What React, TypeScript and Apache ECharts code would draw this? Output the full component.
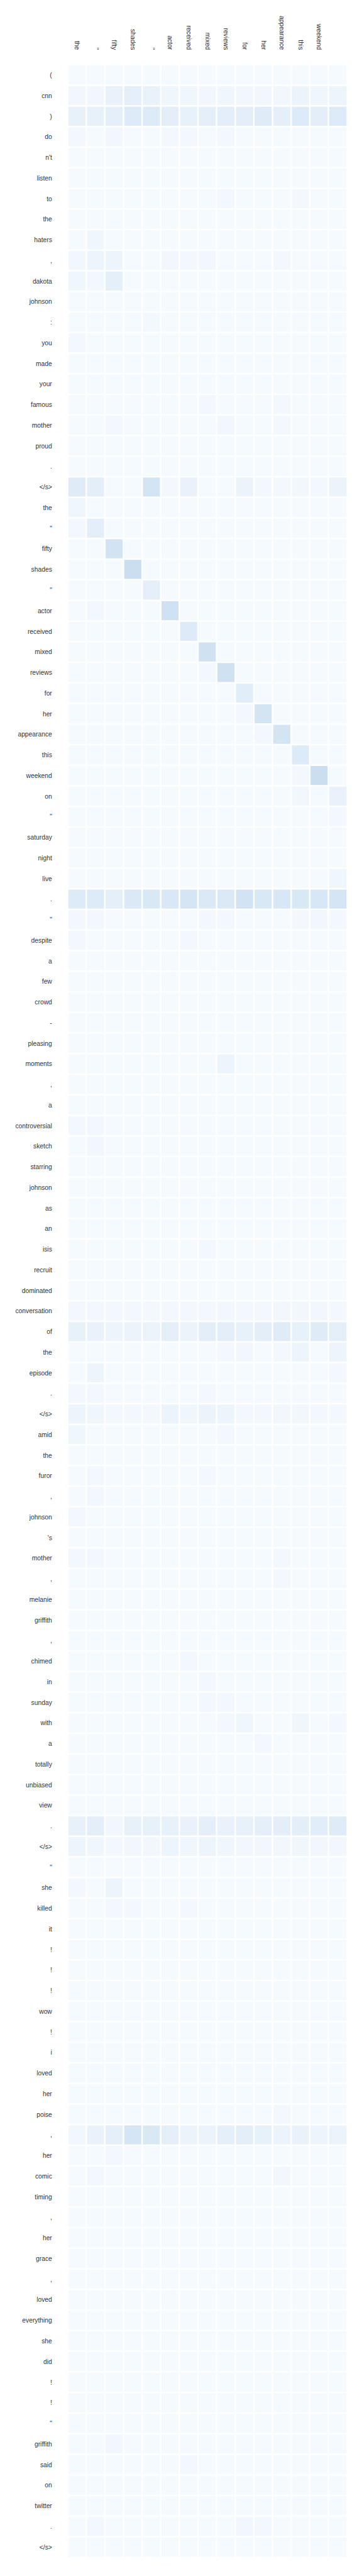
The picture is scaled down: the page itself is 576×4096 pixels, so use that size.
import React, { useEffect, useRef } from "react";
import * as echarts from "echarts";

const xLabels = ["the", "\"", "fifty", "shades", "\"", "actor", "received", "mixed", "reviews", "for", "her", "appearance", "this", "weekend", ""];

const yLabels = [
  "(", "cnn", ")", "do", "n't", "listen", "to", "the", "haters", ",", "dakota", "johnson", ":",
  "you", "made", "your", "famous", "mother", "proud", ".", "</s>",
  "the", "\"", "fifty", "shades", "\"", "actor", "received", "mixed", "reviews", "for", "her",
  "appearance", "this", "weekend", "on", "\"", "saturday", "night", "live", ".", "\"",
  "despite", "a", "few", "crowd", "-", "pleasing", "moments", ",", "a", "controversial",
  "sketch", "starring", "johnson", "as", "an", "isis", "recruit", "dominated", "conversation",
  "of", "the", "episode", ".", "</s>",
  "amid", "the", "furor", ",", "johnson", "'s", "mother", ",", "melanie", "griffith", ",",
  "chimed", "in", "sunday", "with", "a", "totally", "unbiased", "view", ".", "</s>",
  "\"", "she", "killed", "it", "!", "!", "!", "wow", "!", "i", "loved", "her", "poise", ",",
  "her", "comic", "timing", ",", "her", "grace", ",", "loved", "everything", "she", "did",
  "!", "!", "\"", "griffith", "said", "on", "twitter", ".", "</s>",
];

// attention weights in percent, one row per source token
const attention = [
  [1,1,1,1,1,1,1,1,1,1,1,1,1,1,1], // (
  [3,3,7,9,7,4,4,3,4,3,3,3,6,4,5], // cnn
  [8,8,9,13,13,10,8,9,10,10,12,9,13,10,13], // )
  [2,1,3,1,1,2,2,1,2,1,1,1,1,1,1], // do
  [1,1,1,1,1,1,1,1,1,1,1,1,1,1,1], // n't
  [1,1,1,1,1,1,1,1,1,1,1,1,1,1,1], // listen
  [1,1,1,1,1,1,1,1,2,1,1,1,2,1,1], // to
  [1,1,1,1,1,1,1,1,1,1,1,1,1,1,1], // the
  [1,4,1,1,1,1,1,1,1,1,1,1,1,1,1], // haters
  [3,5,5,1,1,3,2,3,1,1,1,2,1,1,1], // ,
  [4,2,9,1,1,1,1,1,1,1,1,1,1,1,1], // dakota
  [1,1,1,1,1,1,1,1,1,1,1,1,1,1,1], // johnson
  [1,1,1,1,2,1,1,1,1,1,1,1,1,1,1], // :
  [2,1,1,1,1,1,1,1,1,1,1,1,1,1,1], // you
  [1,1,1,1,1,1,1,1,1,1,1,1,1,1,1], // made
  [1,1,1,1,1,1,1,1,1,1,1,1,1,1,1], // your
  [1,1,1,1,1,1,1,2,1,1,1,2,1,1,1], // famous
  [1,1,2,1,1,1,1,1,3,1,1,2,1,1,1], // mother
  [1,1,1,1,1,1,1,1,1,1,1,1,1,1,1], // proud
  [1,1,1,1,1,1,1,1,1,1,1,1,1,1,1], // .
  [12,10,1,1,18,2,7,1,1,6,2,2,3,2,6], // </s>
  [4,1,1,1,1,1,1,1,1,1,1,1,1,1,1], // the
  [2,10,1,1,1,1,1,1,1,1,1,1,1,1,1], // "
  [1,1,19,1,1,1,1,1,1,1,1,1,1,1,1], // fifty
  [1,1,1,23,1,1,1,1,1,1,1,1,1,1,1], // shades
  [1,1,1,1,9,1,1,1,1,1,1,1,1,1,1], // "
  [1,2,1,1,1,20,1,1,1,1,1,1,1,1,1], // actor
  [1,1,1,1,1,1,13,1,1,1,1,1,1,1,1], // received
  [1,1,1,1,1,1,1,20,1,1,1,1,1,1,1], // mixed
  [1,1,1,1,1,1,1,2,20,1,1,1,1,1,1], // reviews
  [1,1,1,1,1,1,1,1,1,11,1,1,1,1,1], // for
  [1,1,1,1,1,1,1,1,1,2,18,1,1,1,1], // her
  [1,1,1,1,1,1,1,1,1,1,2,18,1,1,1], // appearance
  [1,1,1,1,1,1,1,1,1,1,1,1,13,1,1], // this
  [1,1,1,1,1,1,1,1,1,1,1,1,2,23,1], // weekend
  [1,1,1,1,1,1,1,1,1,1,1,1,3,1,7], // on
  [1,1,1,1,1,1,1,1,1,1,1,1,1,1,2], // "
  [1,1,1,1,1,1,1,1,1,1,1,1,1,1,1], // saturday
  [1,1,1,1,1,1,1,1,1,1,1,1,1,1,1], // night
  [1,1,1,1,1,1,1,1,1,1,1,1,1,1,4], // live
  [13,13,9,14,15,15,17,14,14,19,15,16,15,16,17], // .
  [2,2,1,1,1,1,1,2,2,1,1,1,2,3,2], // "
  [2,1,1,1,1,1,2,1,1,1,1,1,1,1,1], // despite
  [1,1,1,1,1,1,1,1,1,1,1,1,1,1,1], // a
  [1,1,1,1,1,1,1,1,1,1,1,1,1,1,1], // few
  [1,1,1,1,1,1,1,1,1,1,1,1,1,1,1], // crowd
  [1,1,1,1,1,1,1,1,1,1,1,1,1,1,1], // -
  [1,1,1,1,1,1,1,1,1,1,1,1,1,1,1], // pleasing
  [1,1,1,1,1,1,1,1,5,1,1,1,1,1,1], // moments
  [1,1,1,1,1,1,1,1,1,1,1,1,1,1,1], // ,
  [1,1,1,1,1,1,1,1,1,1,1,1,1,1,1], // a
  [2,2,1,1,1,1,1,1,1,1,1,1,1,1,1], // controversial
  [1,3,1,1,1,1,1,1,1,1,1,1,1,1,1], // sketch
  [1,1,1,1,1,1,1,1,1,1,1,1,1,1,1], // starring
  [1,1,1,1,1,1,1,1,1,1,1,1,1,1,1], // johnson
  [1,1,1,1,1,1,1,1,1,1,1,1,1,1,1], // as
  [1,1,1,1,1,1,1,1,1,1,1,1,1,1,1], // an
  [1,1,1,1,1,1,1,2,1,1,1,1,1,1,1], // isis
  [1,1,1,1,1,1,1,1,1,1,1,1,1,1,1], // recruit
  [1,1,1,1,1,1,1,1,1,1,1,1,1,1,1], // dominated
  [2,2,2,2,2,2,2,2,3,2,2,3,3,3,2], // conversation
  [8,7,5,6,6,9,6,10,10,8,10,12,8,12,9], // of
  [1,1,1,1,1,1,1,1,2,3,1,2,5,1,5], // the
  [1,5,1,1,1,1,1,1,1,1,1,1,1,1,2], // episode
  [2,2,1,1,1,1,1,2,1,1,1,1,1,1,1], // .
  [5,4,2,2,2,6,4,6,5,2,2,3,3,2,2], // </s>
  [4,1,1,1,1,1,1,1,2,1,1,1,1,1,1], // amid
  [1,1,1,1,1,1,1,1,1,1,1,1,1,1,1], // the
  [1,2,1,1,1,1,1,2,1,1,1,1,1,1,1], // furor
  [1,2,1,1,1,1,1,1,1,1,1,1,1,1,1], // ,
  [2,1,1,1,1,1,1,1,1,1,1,1,1,1,1], // johnson
  [1,1,1,1,1,1,1,1,1,1,1,1,1,1,1], // 's
  [2,2,1,1,1,1,1,1,1,1,1,2,1,1,1], // mother
  [1,1,1,1,1,1,1,1,1,1,1,2,1,1,1], // ,
  [1,1,1,1,1,1,1,1,1,1,1,1,1,1,1], // melanie
  [1,1,1,1,1,1,1,1,1,1,1,1,1,1,1], // griffith
  [1,1,1,1,1,1,1,1,1,1,1,1,1,1,1], // ,
  [1,1,1,1,1,1,2,1,1,1,1,1,1,1,1], // chimed
  [1,1,1,1,1,1,1,2,1,1,1,1,1,1,1], // in
  [1,1,1,1,1,1,1,2,2,1,1,1,1,1,1], // sunday
  [1,1,1,1,1,1,1,1,2,4,1,1,4,1,2], // with
  [1,1,1,1,1,1,1,1,1,1,2,1,1,1,1], // a
  [1,1,1,1,1,1,1,1,1,1,1,1,1,1,1], // totally
  [1,1,1,1,1,1,1,1,1,1,1,1,1,1,1], // unbiased
  [1,1,1,1,1,1,1,1,1,1,1,1,1,1,1], // view
  [8,10,3,8,8,8,7,9,7,8,9,10,10,11,12], // .
  [5,4,2,3,3,5,4,5,4,3,3,3,4,3,3], // </s>
  [1,1,1,1,1,1,1,1,1,1,1,1,1,1,1], // "
  [2,1,5,1,1,1,1,1,1,1,1,1,1,1,1], // she
  [1,1,2,2,1,1,2,1,1,1,1,1,1,1,1], // killed
  [1,1,1,1,1,1,1,1,1,1,1,1,1,1,1], // it
  [1,1,1,1,1,1,1,1,1,1,1,1,1,1,1], // !
  [1,1,1,1,1,1,1,1,1,1,1,1,1,1,1], // !
  [1,1,1,1,1,1,1,1,1,1,1,1,1,1,1], // !
  [1,1,1,1,1,1,1,1,1,1,1,1,1,1,1], // wow
  [1,1,1,1,1,1,1,1,1,1,1,1,1,1,1], // !
  [1,1,1,1,1,1,1,1,1,1,1,1,1,1,1], // i
  [1,1,1,1,1,1,1,1,1,1,1,1,1,1,1], // loved
  [1,1,1,1,1,1,1,1,1,1,1,1,1,1,1], // her
  [1,1,1,1,1,1,1,1,1,1,1,2,1,1,1], // poise
  [3,7,9,17,15,9,6,6,9,10,8,6,7,5,6], // ,
  [1,1,2,1,1,1,1,1,1,1,1,1,1,1,1], // her
  [1,2,1,1,1,1,1,1,1,1,1,3,1,1,1], // comic
  [1,1,1,1,1,1,1,1,1,1,1,1,1,1,1], // timing
  [1,1,1,1,1,1,1,1,1,1,1,1,1,1,1], // ,
  [1,1,1,1,1,1,1,1,1,1,1,1,1,1,1], // her
  [1,1,1,1,1,1,1,1,1,1,1,1,1,1,1], // grace
  [1,1,1,1,1,1,1,1,1,1,1,1,1,1,1], // ,
  [1,1,1,1,1,1,1,1,1,1,1,1,1,1,1], // loved
  [1,1,1,1,1,1,1,1,1,1,1,1,1,1,1], // everything
  [1,1,1,1,1,1,1,1,1,1,1,1,1,1,1], // she
  [1,1,1,1,1,1,1,1,1,1,1,1,1,1,1], // did
  [1,1,1,1,1,1,1,1,1,1,1,1,1,1,1], // !
  [1,1,1,1,1,1,1,1,1,1,1,1,1,1,1], // !
  [1,1,1,1,1,1,1,1,1,1,1,1,1,1,1], // "
  [1,1,3,1,1,1,1,1,1,1,1,1,1,1,1], // griffith
  [1,1,1,1,1,1,2,1,1,1,1,1,1,1,1], // said
  [1,1,1,1,1,1,1,1,1,1,1,1,1,1,1], // on
  [1,1,1,1,1,1,1,1,1,1,1,1,1,1,1], // twitter
  [1,2,1,1,1,1,1,1,1,3,2,1,1,1,1], // .
  [1,1,1,1,1,1,1,1,1,1,1,1,1,1,1], // </s>
];

const blues = ["#f7fbff", "#deebf7", "#c6dbef", "#9ecae1", "#6baed6", "#4292c6", "#2171b5", "#08519c", "#08306b"];

export default function App() {
  const ref = useRef<HTMLDivElement>(null);
  useEffect(() => {
    if (!ref.current) return;
    const chart = echarts.init(ref.current, null, { renderer: "svg" });
    const data: [number, number, number][] = [];
    attention.forEach((row, i) => row.forEach((v, j) => data.push([j, i, v])));
    const font = "'Liberation Sans', Arial, sans-serif";
    chart.setOption({
      animation: false,
      backgroundColor: "#ffffff",
      grid: { left: 107.8, right: 23.6, top: 103.3, bottom: 29.6 },
      xAxis: {
        type: "category",
        position: "top",
        data: xLabels,
        axisLine: { show: false },
        axisTick: { show: false },
        splitLine: { show: false },
        axisLabel: { interval: 0, rotate: 90, margin: 24, fontSize: 10.3, color: "#333", fontFamily: font },
      },
      yAxis: {
        type: "category",
        inverse: true,
        data: yLabels,
        axisLine: { show: false },
        axisTick: { show: false },
        splitLine: { show: false },
        axisLabel: { interval: 0, margin: 25, fontSize: 10.3, color: "#333", fontFamily: font },
      },
      visualMap: { show: false, min: 0, max: 100, inRange: { color: blues } },
      series: [
        {
          type: "heatmap",
          data,
          itemStyle: { borderColor: "#ffffff", borderWidth: 2.5 },
          emphasis: { disabled: true },
        },
      ],
    });
    return () => chart.dispose();
  }, []);
  return <div ref={ref} style={{ position: "absolute", left: 0, top: 0, width: 576, height: 4096 }} />;
}
